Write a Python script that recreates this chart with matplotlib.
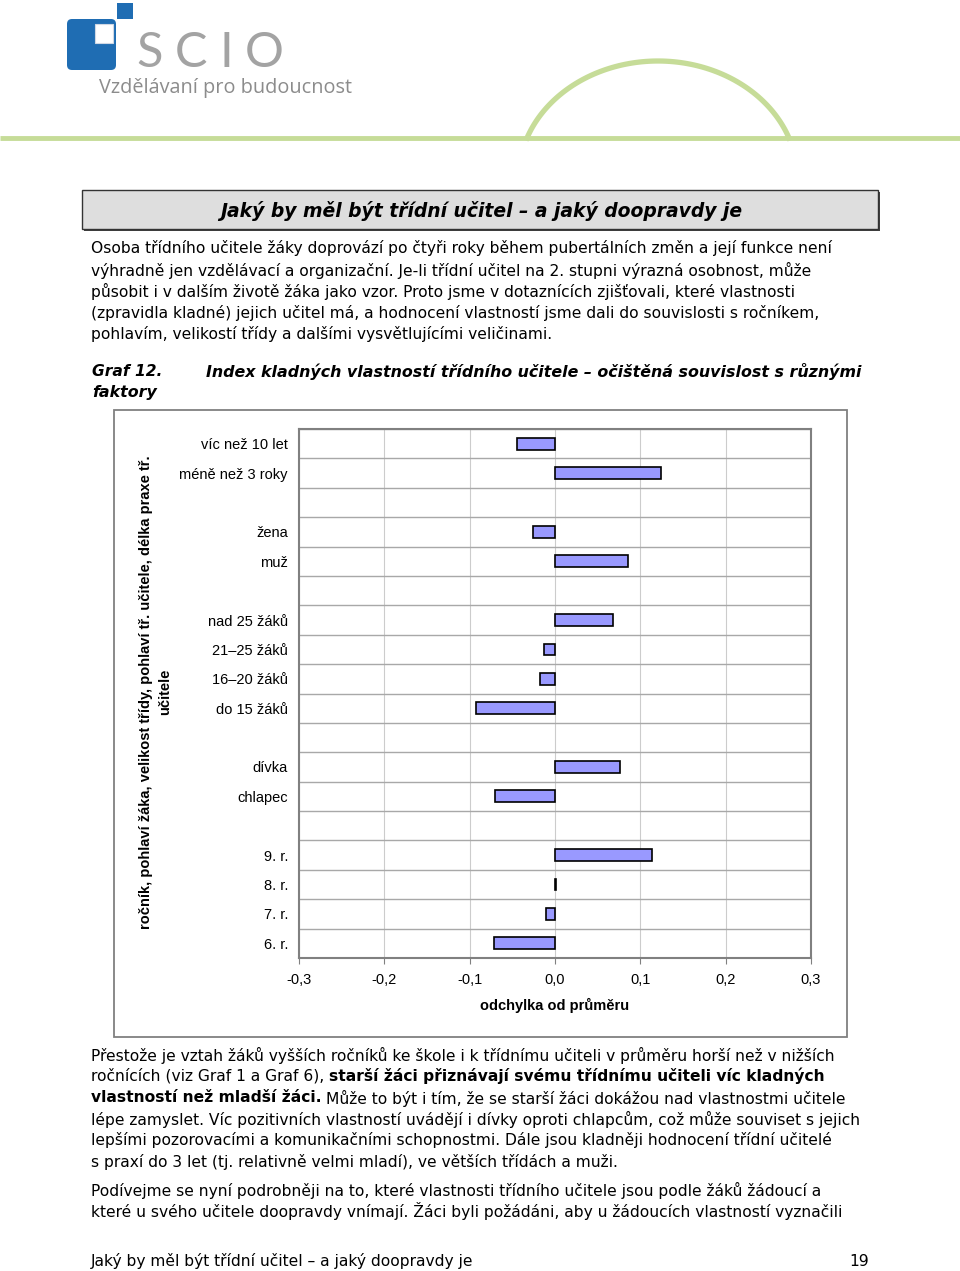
import numpy as np
import matplotlib
matplotlib.use('Agg')
import matplotlib.pyplot as plt
from matplotlib.patches import Rectangle, FancyBboxPatch

# Graf 12 data - odchylka od prumeru (blank rows separate the groups)
labels = ["víc než 10 let", "méně než 3 roky", "",
          "žena", "muž", "",
          "nad 25 žáků", "21–25 žáků", "16–20 žáků", "do 15 žáků", "",
          "dívka", "chlapec", "",
          "9. r.", "8. r.", "7. r.", "6. r."]
values = [-0.045, 0.124, np.nan,
          -0.026, 0.086, np.nan,
          0.068, -0.013, -0.018, -0.093, np.nan,
          0.076, -0.070, np.nan,
          0.114, 0.001, -0.010, -0.072]
x_ticks = [-0.3, -0.2, -0.1, 0.0, 0.1, 0.2, 0.3]

title = "Jaký by měl být třídní učitel – a jaký doopravdy je"
para1 = ["Osoba třídního učitele žáky doprovází po čtyři roky během pubertálních změn a její funkce není",
         "výhradně jen vzdělávací a organizační. Je-li třídní učitel na 2. stupni výrazná osobnost, může",
         "působit i v dalším životě žáka jako vzor. Proto jsme v dotaznících zjišťovali, které vlastnosti",
         "(zpravidla kladné) jejich učitel má, a hodnocení vlastností jsme dali do souvislosti s ročníkem,",
         "pohlavím, velikostí třídy a dalšími vysvětlujícími veličinami."]
para2 = [[("Přestože je vztah žáků vyšších ročníků ke škole i k třídnímu učiteli v průměru horší než v nižších", 'normal')],
         [("ročnících (viz Graf 1 a Graf 6),", 'normal'),
          ("starší žáci přiznávají svému třídnímu učiteli víc kladných", 'bold')],
         [("vlastností než mladší žáci.", 'bold'),
          ("Může to být i tím, že se starší žáci dokážou nad vlastnostmi učitele", 'normal')],
         [("lépe zamyslet. Víc pozitivních vlastností uvádějí i dívky oproti chlapcům, což může souviset s jejich", 'normal')],
         [("lepšími pozorovacími a komunikačními schopnostmi. Dále jsou kladněji hodnocení třídní učitelé", 'normal')],
         [("s praxí do 3 let (tj. relativně velmi mladí), ve větších třídách a muži.", 'normal')]]
para3 = ["Podívejme se nyní podrobněji na to, které vlastnosti třídního učitele jsou podle žáků žádoucí a",
         "které u svého učitele doopravdy vnímají. Žáci byli požádáni, aby u žádoucích vlastností vyznačili"]

W, H = 960, 1271
body = 'DejaVu Sans'
chart_font = 'Liberation Sans'

fig = plt.figure(figsize=(W / 100, H / 100), dpi=100)
renderer = fig.canvas.get_renderer()

# page layer in pixel coordinates
page = fig.add_axes([0, 0, 1, 1])
page.set_xlim(0, W)
page.set_ylim(H, 0)
page.axis('off')


def fit(t, length, vertical=False):
    # scale font so the text spans the given number of pixels
    bb = t.get_window_extent(renderer)
    cur = bb.height if vertical else bb.width
    t.set_fontsize(t.get_fontsize() * length / cur)
    return t.get_fontsize()


def width_of(s, size, weight='normal', family=body):
    t = page.text(0, 0, s, fontsize=size, fontweight=weight, family=family)
    w = t.get_window_extent(renderer).width
    t.remove()
    return w


def mixed_line(x, y, parts, size):
    space = width_of("x x", size) - width_of("xx", size)
    for s, weight in parts:
        t = page.text(x, y, s, fontsize=size, fontweight=weight, family=body, va='center')
        x += t.get_window_extent(renderer).width + space


# logo
page.add_patch(FancyBboxPatch((70, 22), 43, 45, boxstyle="round,pad=3,rounding_size=5",
                              fc='#1f6db3', ec='none'))
page.add_patch(Rectangle((95, 24), 18, 19, fc='white', ec='#d0d8e4', lw=0.8))
page.add_patch(Rectangle((117, 3), 16, 16, fc='#1f6db3', ec='none'))
# SCIO letters spread evenly over 136..284 px
widths = [width_of(ch, 35, family='Lato') for ch in "SCIO"]
gap = (148 - sum(widths)) / 3
lx = 136
for ch, w in zip("SCIO", widths):
    page.text(lx, 67, ch, family='Lato', color='#a3a3a3', fontsize=35, va='baseline')
    lx += w + gap
t = page.text(99, 88, "Vzdělávaní pro budoucnost", family='Open Sans', color='#8c8c8c',
              fontsize=14, va='center')
fit(t, 254)

# green line with arc (part of an ellipse cut by the line)
green = '#c6dc98'
page.plot([0, W], [138, 138], color=green, lw=3.5, solid_capstyle='butt')
t0 = np.arcsin(40 / 117)
tt = np.linspace(t0, np.pi - t0, 100)
page.plot(658 + 139.4 * np.cos(tt), 178 - 117 * np.sin(tt), color=green, lw=3.8)

# title box with shadow
page.add_patch(Rectangle((84, 192), 796, 39, fc='#404040', ec='none'))
page.add_patch(Rectangle((82, 190), 796, 39, fc='#dedede', ec='#333333', lw=1))
t = page.text(481, 211, title, family=body, fontweight='bold', style='italic',
              fontsize=14, ha='center', va='center')
fit(t, 525)

# first paragraph
t = page.text(91, 248, para1[0], family=body, fontsize=11, va='center')
fs = fit(t, 744)
for i, s in enumerate(para1[1:]):
    page.text(91, [270, 291, 313, 334][i], s, family=body, fontsize=fs, va='center')

# caption
page.text(92, 371, "Graf 12.", family=body, fontweight='bold', style='italic',
          fontsize=fs, va='center')
t = page.text(206, 371, "Index kladných vlastností třídního učitele – očištěná souvislost s různými",
              family=body, fontweight='bold', style='italic', fontsize=fs, va='center')
cs = fit(t, 654)
page.text(92, 392, "faktory", family=body, fontweight='bold', style='italic',
          fontsize=cs, va='center')

# chart frame
page.add_patch(Rectangle((114, 410), 733, 627, fc='white', ec='#808080', lw=1.3))

# the chart
ax = fig.add_axes([299 / W, 1 - 958 / H, 512 / W, 529 / H])
pos = np.arange(len(labels))
ax.barh(pos, values, height=0.4, color='#9999ff', edgecolor='black', lw=1.2, zorder=3)
ax.set_xlim(-0.3, 0.3)
ax.set_ylim(len(labels) - 0.5, -0.5)
ax.set_yticks(pos, labels, family=chart_font, fontsize=10.5)
ax.set_yticks(np.arange(-0.5, len(labels)), minor=True)
ax.set_xticks(x_ticks, [f"{v:.1f}".replace('.', ',') for v in x_ticks],
              family=chart_font, fontsize=10.5)
ax.grid(axis='y', which='minor', color='#a8a8a8', lw=1)
ax.grid(axis='x', which='major', color='#cccccc', lw=0.8)
ax.set_axisbelow(True)
ax.tick_params(axis='y', which='both', length=0, pad=8)
ax.tick_params(axis='x', length=4, color='#808080', pad=7)
for sp in ax.spines.values():
    sp.set_color('#808080')
    sp.set_linewidth(1.5)
ax.set_xlabel("odchylka od průměru", family=chart_font, fontweight='bold',
              fontsize=10.5, labelpad=8)

t = page.text(146, 692, "ročník, pohlaví žáka, velikost třídy, pohlaví tř. učitele, délka praxe tř.",
              family=chart_font, fontweight='bold', fontsize=10, rotation=90,
              ha='center', va='center')
ys = fit(t, 473, vertical=True)
page.text(165, 692, "učitele", family=chart_font, fontweight='bold', fontsize=ys,
          rotation=90, ha='center', va='center')

# text below the chart
for y, parts in zip([1055, 1076, 1098, 1119, 1140, 1162], para2):
    mixed_line(91, y, parts, fs)
for y, s in zip([1190, 1211], para3):
    page.text(91, y, s, family=body, fontsize=fs, va='center')

# footer
page.text(91, 1261, title, family=body, fontsize=fs, va='center')
page.text(869, 1261, "19", family=body, fontsize=fs, va='center', ha='right')

fig.savefig('out.png', dpi=100)
